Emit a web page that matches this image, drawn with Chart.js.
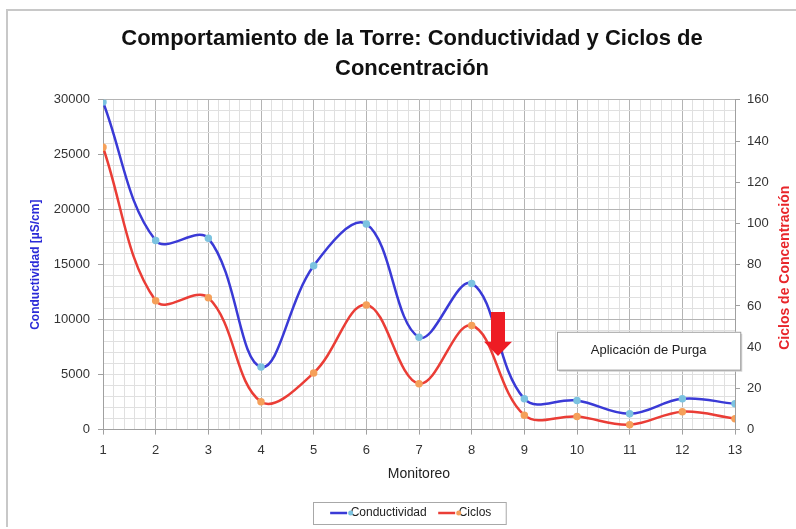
<!DOCTYPE html>
<html>
<head>
<meta charset="utf-8">
<script src="https://cdn.jsdelivr.net/npm/chart.js@4.4.1/dist/chart.umd.min.js"></script>
<style>
  html, body { margin: 0; padding: 0; background: #fff; }
  #wrap { width: 796px; height: 529px; position: relative; }
</style>
</head>
<body>
<div id="wrap"><canvas id="torreChart" width="796" height="529"></canvas></div>
<script>
// monitoreo numbers on the x axis
var monitoreo = [1, 2, 3, 4, 5, 6, 7, 8, 9, 10, 11, 12, 13];
// conductividad in uS/cm (left axis)
var conductividad = [29800, 17200, 17400, 5700, 14900, 18700, 8400, 13300, 2800, 2650, 1450, 2800, 2350];
// ciclos de concentracion (right axis)
var ciclos = [137, 62.5, 64, 13.5, 27.5, 60.5, 22.3, 50.5, 7, 6.3, 2.4, 8.7, 5.3];

var chartTitle = ['Comportamiento de la Torre: Conductividad y Ciclos de', 'Concentración'];
var leftTitle = 'Conductividad [µS/cm]';
var rightTitle = 'Ciclos de Concentración';
var purgaText = 'Aplicación de Purga';

var lineColors = ['#3a3ad6', '#ea3d36'];
var markerColors = ['#7cc3e0', '#f5a05a'];

function isInt(v) { return Math.abs(v - Math.round(v)) < 1e-6; }

function to_points(xs, ys) {
  var out = [];
  for (let i = 0; i < xs.length; i++) {
    out.push({ x: xs[i], y: ys[i] });
  }
  return out;
}

var fam = "'Liberation Sans', Arial, sans-serif";
var tickFont = { family: fam, size: 13 };

// frame, purga box, arrow, right title, legend markers
const extrasPlugin = {
  id: 'extras',
  beforeDraw(chart) {
    const ctx = chart.ctx;
    ctx.save();
    ctx.strokeStyle = '#c8c8c8';
    ctx.lineWidth = 2;
    ctx.beginPath();
    ctx.moveTo(7, 527);
    ctx.lineTo(7, 10);
    ctx.lineTo(796, 10);
    ctx.stroke();
    ctx.restore();
  },
  afterDatasetsDraw(chart) {
    const ctx = chart.ctx;
    const xs = chart.scales.x, yl = chart.scales.y;

    // red arrow at monitoreo 8.5
    const ax = xs.getPixelForValue(8.5);
    const yTop = yl.getPixelForValue(10700);
    const yNeck = yl.getPixelForValue(8000);
    const yTip = yl.getPixelForValue(6700);
    ctx.save();
    ctx.fillStyle = '#ee1c24';
    ctx.beginPath();
    ctx.moveTo(ax - 7, yTop);
    ctx.lineTo(ax + 7, yTop);
    ctx.lineTo(ax + 7, yNeck);
    ctx.lineTo(ax + 14, yNeck);
    ctx.lineTo(ax, yTip);
    ctx.lineTo(ax - 14, yNeck);
    ctx.lineTo(ax - 7, yNeck);
    ctx.closePath();
    ctx.fill();
    ctx.restore();

    // purga label box
    const bx1 = xs.getPixelForValue(9.62), bx2 = xs.getPixelForValue(13.1);
    const by1 = yl.getPixelForValue(8900), by2 = yl.getPixelForValue(5450);
    ctx.save();
    ctx.fillStyle = '#d0d0d0';
    ctx.fillRect(bx1 + 2, by1 + 2, bx2 - bx1, by2 - by1);
    ctx.fillStyle = '#ffffff';
    ctx.fillRect(bx1, by1, bx2 - bx1, by2 - by1);
    ctx.strokeStyle = '#a0a0a0';
    ctx.lineWidth = 1;
    ctx.strokeRect(bx1 + 0.5, by1 + 0.5, bx2 - bx1, by2 - by1);
    ctx.fillStyle = '#222';
    ctx.font = "13px " + fam;
    ctx.textAlign = 'center';
    ctx.textBaseline = 'middle';
    ctx.fillText(purgaText, (bx1 + bx2) / 2, (by1 + by2) / 2);
    ctx.restore();
  },
  afterDraw(chart) {
    const ctx = chart.ctx;
    const area = chart.chartArea;
    // right axis title reads bottom to top
    ctx.save();
    ctx.translate(785, (area.top + area.bottom) / 2 + 3);
    ctx.rotate(-Math.PI / 2);
    ctx.fillStyle = '#e8262b';
    ctx.font = "bold 14px " + fam;
    ctx.textAlign = 'center';
    ctx.textBaseline = 'middle';
    ctx.fillText(rightTitle, 0, 0);
    ctx.restore();

    // legend box and markers
    const lg = chart.legend;
    if (lg && lg.legendHitBoxes && lg.legendHitBoxes.length) {
      const boxes = lg.legendHitBoxes;
      const first = boxes[0], last = boxes[boxes.length - 1];
      ctx.save();
      ctx.strokeStyle = '#a8a8a8';
      ctx.lineWidth = 1;
      const left = first.left - 20, right = last.left + last.width + 14;
      const top = first.top - 5, bottom = first.top + first.height + 5;
      ctx.strokeRect(Math.round(left) + 0.5, Math.round(top) + 0.5, right - left, bottom - top);
      for (let i = 0; i < boxes.length; i++) {
        const b = boxes[i];
        ctx.fillStyle = markerColors[i];
        ctx.beginPath();
        ctx.arc(b.left + 18, b.top + b.height / 2, 2.5, 0, Math.PI * 2);
        ctx.fill();
      }
      ctx.restore();
    }
  }
};

const data = {
  datasets: [{
    label: 'Conductividad',
    data: to_points(monitoreo, conductividad),
    yAxisID: 'y',
    borderColor: lineColors[0],
    backgroundColor: lineColors[0],
    pointBackgroundColor: markerColors[0],
    pointBorderColor: markerColors[0],
    pointRadius: 2.5,
    borderWidth: 2.5,
    tension: 0.38
  }, {
    label: 'Ciclos',
    data: to_points(monitoreo, ciclos),
    yAxisID: 'y2',
    borderColor: lineColors[1],
    backgroundColor: lineColors[1],
    pointBackgroundColor: markerColors[1],
    pointBorderColor: markerColors[1],
    pointRadius: 2.5,
    borderWidth: 2.5,
    tension: 0.38
  }]
};

const config = {
  type: 'line',
  data: data,
  plugins: [extrasPlugin],
  options: {
    responsive: false,
    animation: false,
    layout: { padding: { top: 14, left: 28, right: 0, bottom: 0 } },
    plugins: {
      title: {
        display: true,
        text: chartTitle,
        color: '#111',
        font: { family: fam, size: 22, weight: 'bold', lineHeight: 1.36 },
        padding: { top: 10, bottom: 16 }
      },
      legend: {
        position: 'bottom',
        labels: {
          usePointStyle: true,
          boxWidth: 36,
          padding: 14,
          color: '#222',
          font: { family: fam, size: 12 },
          generateLabels: function (chart) {
            var items = Chart.defaults.plugins.legend.labels.generateLabels(chart);
            items.forEach(function (it, i) {
              it.pointStyle = 'line';
              it.strokeStyle = lineColors[i];
              it.lineWidth = 2.5;
            });
            return items;
          }
        }
      },
      tooltip: { enabled: false }
    },
    scales: {
      x: {
        type: 'linear',
        min: 1,
        max: 13,
        title: {
          display: true,
          text: 'Monitoreo',
          color: '#222',
          font: { family: fam, size: 14 },
          padding: { top: 0, bottom: 10 }
        },
        ticks: {
          stepSize: 0.2,
          autoSkip: false,
          maxRotation: 0,
          maxTicksLimit: 1000,
          color: '#333',
          font: tickFont,
          padding: 8,
          callback: function (v) { return isInt(v) ? String(Math.round(v)) : ''; }
        },
        border: { color: '#a0a0a0' },
        grid: {
          color: function (c) { return isInt(c.tick.value) ? '#b4b4b4' : '#e0e0e0'; },
          tickColor: function (c) { return isInt(c.tick.value) ? '#a0a0a0' : 'rgba(0,0,0,0)'; },
          tickLength: 5
        }
      },
      y: {
        position: 'left',
        min: 0,
        max: 30000,
        title: {
          display: true,
          text: leftTitle,
          color: '#2b2bd8',
          font: { family: fam, size: 12, weight: 'bold' },
          padding: { top: 0, bottom: 0 }
        },
        ticks: {
          stepSize: 1000,
          autoSkip: false,
          maxTicksLimit: 1000,
          color: '#333',
          font: tickFont,
          padding: 8,
          callback: function (v) { return v % 5000 === 0 ? String(v) : ''; }
        },
        border: { color: '#a0a0a0' },
        grid: {
          color: function (c) { return c.tick.value % 10000 === 0 ? '#b4b4b4' : '#e0e0e0'; },
          tickColor: function (c) { return c.tick.value % 5000 === 0 ? '#a0a0a0' : 'rgba(0,0,0,0)'; },
          tickLength: 5
        },
        afterFit: function (s) { s.width = 75; }
      },
      y2: {
        position: 'right',
        min: 0,
        max: 160,
        ticks: {
          stepSize: 20,
          color: '#333',
          font: tickFont,
          padding: 7
        },
        border: { color: '#a0a0a0' },
        grid: { drawOnChartArea: false, color: '#a0a0a0', tickLength: 5 },
        afterFit: function (s) { s.width = 61; }
      }
    }
  }
};

const torreChart = new Chart(document.getElementById('torreChart'), config);
</script>
</body>
</html>
